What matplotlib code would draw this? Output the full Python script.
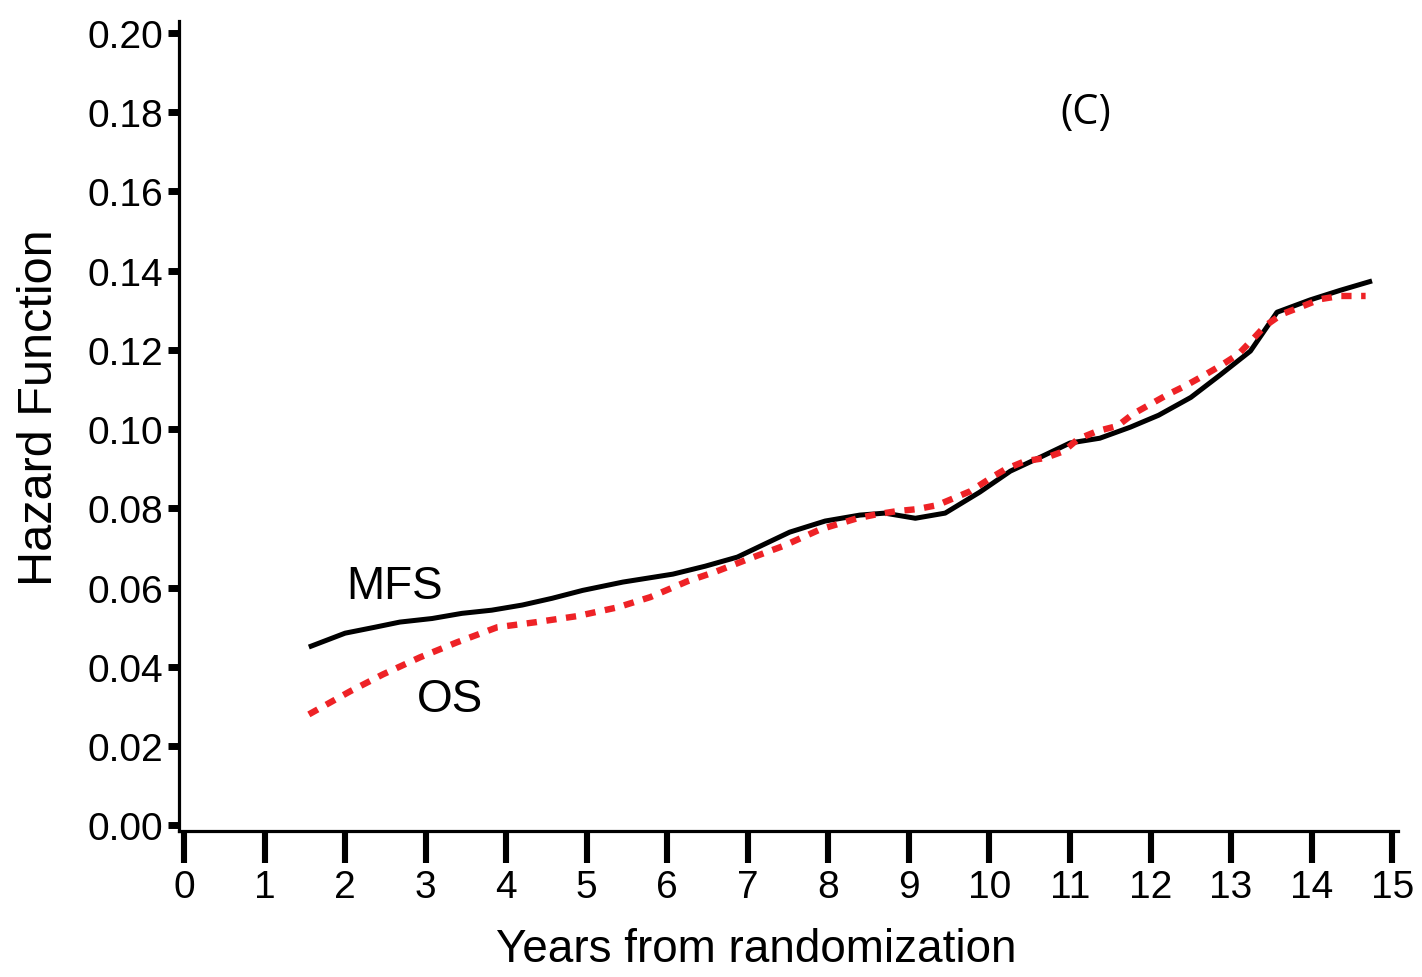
import matplotlib.pyplot as plt

plt.rcParams["font.family"] = ["Liberation Sans", "DejaVu Sans"]

# hazard estimates by year
mfs_years = [1.55, 2.0, 2.37, 2.68, 3.08, 3.45, 3.82, 4.2, 4.57, 4.95, 5.45,
             6.07, 6.47, 6.87, 7.21, 7.52, 7.96, 8.39, 8.7, 9.08, 9.45, 9.88,
             10.26, 10.63, 11.0, 11.37, 11.75, 12.1, 12.5, 12.86, 13.24,
             13.57, 13.98, 14.35, 14.75]
mfs_hazard = [0.0450, 0.0485, 0.0500, 0.0513, 0.0522, 0.0535, 0.0543, 0.0556,
              0.0573, 0.0593, 0.0614, 0.0634, 0.0654, 0.0677, 0.0710, 0.0740,
              0.0768, 0.0783, 0.0788, 0.0775, 0.0788, 0.0841, 0.0894, 0.0929,
              0.0965, 0.0977, 0.1005, 0.1035, 0.1080, 0.1136, 0.1197, 0.1295,
              0.1326, 0.1350, 0.1374]

os_years = [1.55, 2.06, 2.47, 2.93, 3.39, 3.89, 4.38, 4.88, 5.38, 5.79, 6.25,
            6.6, 7.03, 7.44, 7.9, 8.36, 8.6, 8.85, 9.1, 9.35, 9.76, 10.05,
            10.2, 10.44, 10.69, 10.92, 11.1, 11.34, 11.59, 11.78, 12.0, 12.22,
            12.43, 12.65, 12.86, 13.09, 13.27, 13.42, 13.63, 13.86, 14.11,
            14.35, 14.67]
os_hazard = [0.0280, 0.0338, 0.0381, 0.0424, 0.0462, 0.0500, 0.0513, 0.0528,
             0.0550, 0.0576, 0.0616, 0.0640, 0.0674, 0.0705, 0.0747, 0.0775,
             0.0785, 0.0793, 0.0798, 0.0808, 0.0843, 0.0881, 0.0899, 0.0919,
             0.0927, 0.0944, 0.0975, 0.0995, 0.1008, 0.1038, 0.1063, 0.1088,
             0.1109, 0.1134, 0.1159, 0.1189, 0.1227, 0.1260, 0.1290, 0.1308,
             0.1328, 0.1336, 0.1336]

x_ticks = list(range(0, 16))
y_ticks = [0.00, 0.02, 0.04, 0.06, 0.08, 0.10, 0.12, 0.14, 0.16, 0.18, 0.20]

fig = plt.figure(figsize=(14.22, 9.78), dpi=100)
ax = fig.add_axes([0.126, 0.149, 0.857, 0.8285])

ax.plot(mfs_years, mfs_hazard, color="black", lw=3.6,
        solid_capstyle="butt", solid_joinstyle="round")
ax.plot(os_years, os_hazard, color="#ee2226", lw=4.6,
        dashes=(1.6, 1.5), dash_capstyle="butt")

ax.text(2.61, 0.0604, "MFS", fontsize=33, ha="center", va="center")
ax.text(3.30, 0.0318, "OS", fontsize=33, ha="center", va="center")
ax.text(11.2, 0.1800, "(C)", fontsize=30, ha="center", va="center",
        family=["Open Sans", "DejaVu Sans"])

ax.set_xlim(-0.06, 15.07)
ax.set_ylim(-0.0015, 0.203)
ax.set_xticks(x_ticks)
ax.set_yticks(y_ticks)
ax.set_yticklabels([f"{v:.2f}" for v in y_ticks])

for side in ("top", "right"):
    ax.spines[side].set_visible(False)
for side in ("left", "bottom"):
    ax.spines[side].set_linewidth(2.3)

ax.tick_params(axis="y", direction="out", length=8, width=5, pad=3.5,
               labelsize=28)
ax.tick_params(axis="x", direction="out", length=23, width=4.4, pad=4,
               labelsize=28)

fig.text(0.028, 0.583, "Hazard Function", rotation=90, fontsize=35,
         ha="center", va="center")
fig.text(0.532, 0.029, "Years from randomization", fontsize=33,
         ha="center", va="center")

fig.savefig("out.png", dpi=100)
